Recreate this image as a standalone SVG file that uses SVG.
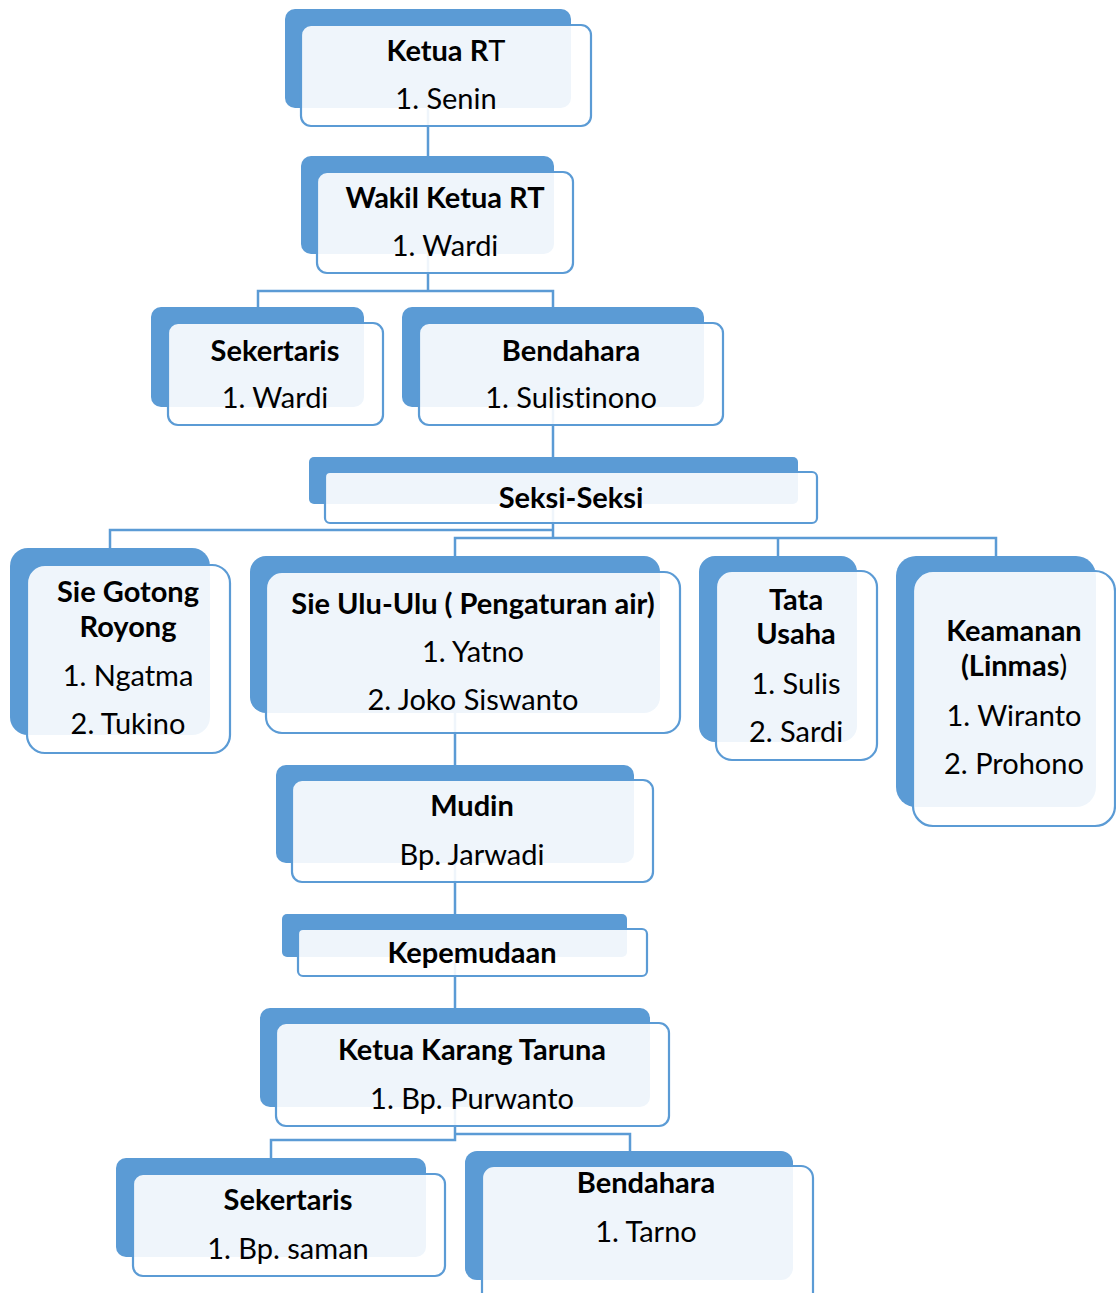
<svg xmlns="http://www.w3.org/2000/svg" width="1116" height="1293" viewBox="0 0 1116 1293">
<style>
.bk{fill:#5B9BD5}
.fr{fill:#FFFFFF;fill-opacity:0.9;stroke:#5B9BD5;stroke-width:2.2}
.cn{fill:none;stroke:#5B9BD5;stroke-width:2.5}
text{font-family:Lato,"Open Sans",sans-serif;font-size:29px;fill:#000;text-anchor:middle;font-variant-ligatures:none;font-feature-settings:"liga" 0}
.b{font-weight:bold}
.r{font-weight:normal}
</style>
<rect width="1116" height="1293" fill="#FFFFFF"/>
<g id="connectors">
<path class="cn" d="M428 108V156"/>
<path class="cn" d="M428 254V291H258V307M428 291H553V307"/>
<path class="cn" d="M553 407V457"/>
<path class="cn" d="M553 504V530H110V548M553 530V538H455V556M553 538H996V556M778 538V556"/>
<path class="cn" d="M455 713V765"/>
<path class="cn" d="M455 863V914"/>
<path class="cn" d="M455 957V1008"/>
<path class="cn" d="M455 1107V1140H271V1158M455 1134H630V1151"/>
</g>
<g id="ketua-rt">
<rect class="bk" x="285" y="9" width="286" height="99" rx="10"/>
<rect class="fr" x="301" y="25" width="290" height="101" rx="10"/>
<text x="446" y="61" class="b">Ketua R<tspan class="r">T</tspan></text>
<text x="446" y="109">1. Senin</text>
</g>
<g id="wakil-ketua-rt">
<rect class="bk" x="301" y="156" width="253" height="98" rx="10"/>
<rect class="fr" x="317" y="172" width="256" height="101" rx="10"/>
<text x="445" y="208" class="b">Wakil Ketua RT</text>
<text x="445" y="256">1. Wardi</text>
</g>
<g id="sekertaris">
<rect class="bk" x="151" y="307" width="213" height="100" rx="10"/>
<rect class="fr" x="168" y="323" width="215" height="102" rx="10"/>
<text x="275" y="361" class="b">Sekertaris</text>
<text x="275" y="408">1. Wardi</text>
</g>
<g id="bendahara">
<rect class="bk" x="402" y="307" width="302" height="100" rx="10"/>
<rect class="fr" x="419" y="323" width="304" height="102" rx="10"/>
<text x="571" y="361" class="b">Bendahara</text>
<text x="571" y="408">1. Sulistinono</text>
</g>
<g id="seksi-seksi">
<rect class="bk" x="309" y="457" width="489" height="47" rx="5"/>
<rect class="fr" x="325" y="472" width="492" height="51" rx="5"/>
<text x="571" y="508" class="b">Seksi-Seksi</text>
</g>
<g id="sie-gotong-royong">
<rect class="bk" x="10" y="548" width="200" height="187" rx="18"/>
<rect class="fr" x="27" y="565" width="203" height="188" rx="18"/>
<text x="128" y="602" class="b">Sie Gotong</text>
<text x="128" y="637" class="b">Royong</text>
<text x="128" y="686">1. Ngatma</text>
<text x="128" y="734">2. Tukino</text>
</g>
<g id="sie-ulu-ulu">
<rect class="bk" x="250" y="556" width="410" height="157" rx="16"/>
<rect class="fr" x="266" y="572" width="414" height="161" rx="16"/>
<text x="473" y="614" class="b">Sie Ulu-Ulu ( Pengaturan air)</text>
<text x="473" y="662">1. Yatno</text>
<text x="473" y="710">2. Joko Siswanto</text>
</g>
<g id="tata-usaha">
<rect class="bk" x="699" y="556" width="158" height="186" rx="16"/>
<rect class="fr" x="716" y="571" width="161" height="189" rx="16"/>
<text x="796" y="610" class="b">Tata</text>
<text x="796" y="644" class="b">Usaha</text>
<text x="796" y="694">1. Sulis</text>
<text x="796" y="742">2. Sardi</text>
</g>
<g id="keamanan">
<rect class="bk" x="896" y="556" width="200" height="251" rx="20"/>
<rect class="fr" x="913" y="571" width="202" height="255" rx="20"/>
<text x="1014" y="641" class="b">Keamanan</text>
<text x="1014" y="676" class="b">(Linmas<tspan class="r">)</tspan></text>
<text x="1014" y="726">1. Wiranto</text>
<text x="1014" y="774">2. Prohono</text>
</g>
<g id="mudin">
<rect class="bk" x="276" y="765" width="358" height="98" rx="10"/>
<rect class="fr" x="292" y="780" width="361" height="102" rx="10"/>
<text x="472" y="816" class="b">Mudin</text>
<text x="472" y="865">Bp. Jarwadi</text>
</g>
<g id="kepemudaan">
<rect class="bk" x="282" y="914" width="345" height="43" rx="5"/>
<rect class="fr" x="298" y="929" width="349" height="47" rx="5"/>
<text x="472" y="963" class="b">Kepemudaan</text>
</g>
<g id="ketua-karang-taruna">
<rect class="bk" x="260" y="1008" width="390" height="99" rx="10"/>
<rect class="fr" x="276" y="1023" width="393" height="103" rx="10"/>
<text x="472" y="1060" class="b">Ketua Karang Taruna</text>
<text x="472" y="1109">1. Bp. Purwanto</text>
</g>
<g id="sekertaris-kt">
<rect class="bk" x="116" y="1158" width="310" height="99" rx="10"/>
<rect class="fr" x="133" y="1174" width="312" height="102" rx="10"/>
<text x="288" y="1210" class="b">Sekertaris</text>
<text x="288" y="1259">1. Bp. saman</text>
</g>
<g id="bendahara-kt">
<rect class="bk" x="465" y="1151" width="328" height="129" rx="12"/>
<rect class="fr" x="482" y="1166" width="331" height="140" rx="12"/>
<text x="646" y="1193" class="b">Bendahara</text>
<text x="646" y="1242">1. Tarno</text>
</g>
</svg>
